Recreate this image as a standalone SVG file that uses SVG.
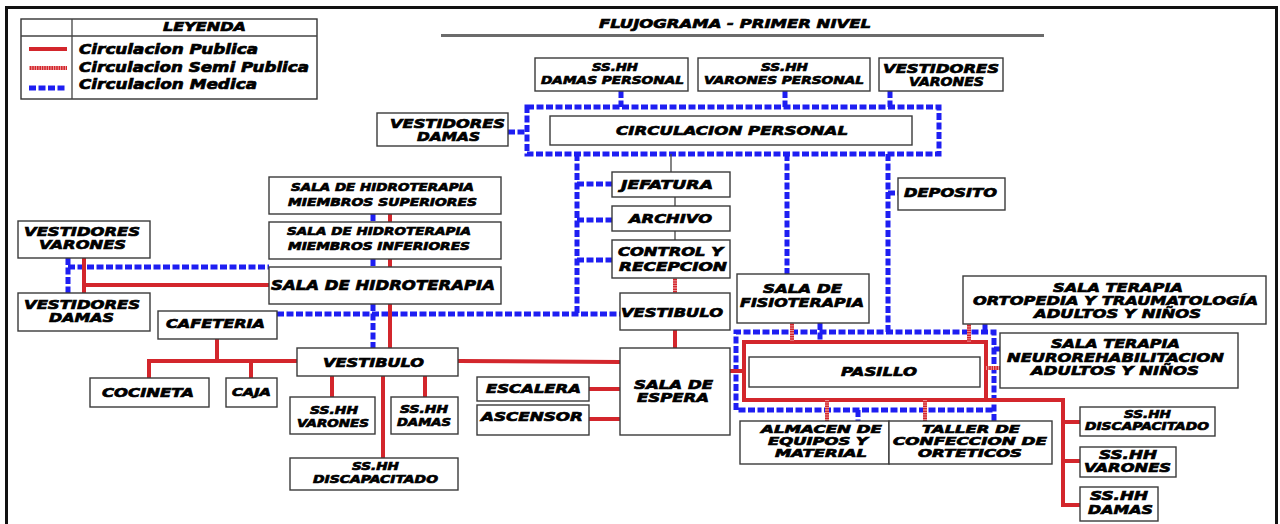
<svg xmlns="http://www.w3.org/2000/svg" width="1280" height="524" viewBox="0 0 1280 524">
  <style>
    .box { fill: #fff; stroke: #3a3a3a; stroke-width: 1.4; }
    .t { font-family: "DejaVu Sans", "Liberation Sans", sans-serif; font-weight: bold; font-style: italic; fill: #000; stroke: #000; stroke-width: 0.7; }
    .f11 { font-size: 11px; }
    .f12 { font-size: 12px; }
    .f13 { font-size: 13px; }
    .f14 { font-size: 14px; }
    .pub { fill: none; stroke: #d3262c; stroke-width: 4; }
    .semi { fill: none; stroke: #d3262c; stroke-width: 4; }
    .semi-tick { fill: none; stroke: #f3b4b4; stroke-width: 4; stroke-dasharray: 0.8 1.6; }
    .med { fill: none; stroke: #1e1ef2; stroke-width: 5; stroke-dasharray: 7 2.5; }
    .thin { fill: none; stroke: #444; stroke-width: 1.3; }
  </style>

  <!-- sheet frame -->
  <path d="M6.5,524 V7.5 H1276.5 V524" fill="none" stroke="#111" stroke-width="3"/>

  <!-- legend -->
  <g id="legend">
    <rect x="21" y="19" width="296" height="80" fill="#fff" stroke="#333" stroke-width="1.4"/>
    <path d="M21,36 H317 M72,19 V99" class="thin"/>
    <text class="t f13" x="163" y="31" textLength="83" lengthAdjust="spacingAndGlyphs">LEYENDA</text>
    <path d="M29,49 H67" class="pub"/>
    <path d="M29,68 H67" class="semi"/>
    <path d="M29,68 H67" class="semi-tick"/>
    <path d="M29,88 H67" class="med" stroke-dasharray="7 3"/>
    <text class="t f14" x="79" y="54" textLength="179" lengthAdjust="spacingAndGlyphs">Circulacion Publica</text>
    <text class="t f14" x="79" y="72" textLength="230" lengthAdjust="spacingAndGlyphs">Circulacion Semi Publica</text>
    <text class="t f14" x="79" y="89" textLength="178" lengthAdjust="spacingAndGlyphs">Circulacion Medica</text>
  </g>

  <!-- title -->
  <g id="title">
    <text class="t f13" x="599" y="28" textLength="272" lengthAdjust="spacingAndGlyphs">FLUJOGRAMA - PRIMER NIVEL</text>
    <path d="M441,35.5 H1044" stroke="#6b6b6b" stroke-width="3"/>
  </g>

  <!-- connectors -->
  <g id="connectors">
    <!-- staff corridor (medical) -->
    <path class="med" d="M527,107 H939 V154 H527 Z"/>
    <path class="med" d="M621,91 V107 M785,91 V107 M890,91 V107 M508,132 H527"/>
    <path class="med" d="M577,154 V314 M277,314 H620 M577,184 H612 M577,220 H612 M577,260 H612"/>
    <path class="med" d="M787,154 V274 M888,154 V332 M888,193 H898"/>
    <path class="med" d="M68,258 V293 M68,267 H269"/>
    <path class="med" d="M373,214 V222 M373,259 V267 M373,304 V348"/>
    <path class="med" d="M994,421 V332 H736 V410 H994"/>
    <path class="med" d="M820,323 V342 M985,324 V332 M994,349 H1000 M858,410 V421"/>

    <!-- office chain -->
    <path class="thin" d="M671,154 V172 M675,197 V206 M675,231 V240"/>

    <!-- public circulation -->
    <path class="pub" d="M84,258 V293 M84,285 H269"/>
    <path class="pub" d="M390,214 V222 M390,259 V267 M390,304 V348"/>
    <path class="pub" d="M217,339 V361 M149,378 V361 H297 M251,361 V378"/>
    <path class="pub" d="M332,376 V397 M383,376 V458 M425,376 V397"/>
    <path class="pub" d="M458,361 L620,362 M589,389 H620 M589,419 H620"/>
    <path class="pub" d="M675,330 V348 M730,371 H744"/>
    <path class="pub" d="M744,342 H986 V400 H744 Z"/>
    <path class="pub" d="M986,400 H1063 V505 H1080 M1063,422 H1080 M1063,461 H1080"/>

    <!-- semi-public circulation -->
    <path class="semi" d="M675,278 V293 M792,323 V342 M969,324 V342 M986,368 H1000 M827,400 V421 M925,400 V421"/>
    <path class="semi-tick" d="M675,278 V293 M792,323 V342 M969,324 V342 M986,368 H1000 M827,400 V421 M925,400 V421"/>
  </g>

  <!-- top row -->
  <g id="sshh-damas-personal">
    <rect class="box" x="535" y="58" width="153" height="33"/>
    <text class="t f11" x="592" y="71" textLength="46" lengthAdjust="spacingAndGlyphs">SS.HH</text>
    <text class="t f11" x="541" y="84" textLength="143" lengthAdjust="spacingAndGlyphs">DAMAS PERSONAL</text>
  </g>
  <g id="sshh-varones-personal">
    <rect class="box" x="698" y="58" width="172" height="33"/>
    <text class="t f11" x="761" y="71" textLength="47" lengthAdjust="spacingAndGlyphs">SS.HH</text>
    <text class="t f11" x="704" y="84" textLength="160" lengthAdjust="spacingAndGlyphs">VARONES PERSONAL</text>
  </g>
  <g id="vestidores-varones-personal">
    <rect class="box" x="879" y="58" width="124" height="33"/>
    <text class="t f13" x="883" y="73" textLength="116" lengthAdjust="spacingAndGlyphs">VESTIDORES</text>
    <text class="t f13" x="909" y="86" textLength="75" lengthAdjust="spacingAndGlyphs">VARONES</text>
  </g>
  <g id="vestidores-damas-personal">
    <rect class="box" x="377" y="113" width="131" height="33"/>
    <text class="t f13" x="390" y="128" textLength="115" lengthAdjust="spacingAndGlyphs">VESTIDORES</text>
    <text class="t f13" x="417" y="141" textLength="63" lengthAdjust="spacingAndGlyphs">DAMAS</text>
  </g>
  <g id="circulacion-personal">
    <rect class="box" x="550" y="116" width="362" height="29"/>
    <text class="t f13" x="616" y="135" textLength="232" lengthAdjust="spacingAndGlyphs">CIRCULACION PERSONAL</text>
  </g>

  <!-- administration column -->
  <g id="jefatura">
    <rect class="box" x="612" y="172" width="118" height="25"/>
    <text class="t f13" x="621" y="189" textLength="92" lengthAdjust="spacingAndGlyphs">JEFATURA</text>
  </g>
  <g id="archivo">
    <rect class="box" x="612" y="206" width="118" height="25"/>
    <text class="t f13" x="629" y="223" textLength="83" lengthAdjust="spacingAndGlyphs">ARCHIVO</text>
  </g>
  <g id="control-recepcion">
    <rect class="box" x="612" y="240" width="118" height="38"/>
    <text class="t f13" x="618" y="256" textLength="105" lengthAdjust="spacingAndGlyphs">CONTROL Y</text>
    <text class="t f13" x="619" y="271" textLength="108" lengthAdjust="spacingAndGlyphs">RECEPCION</text>
  </g>
  <g id="vestibulo-principal">
    <rect class="box" x="620" y="293" width="110" height="37"/>
    <text class="t f13" x="621" y="317" textLength="102" lengthAdjust="spacingAndGlyphs">VESTIBULO</text>
  </g>
  <g id="sala-espera">
    <rect class="box" x="620" y="348" width="110" height="87"/>
    <text class="t f13" x="634" y="389" textLength="79" lengthAdjust="spacingAndGlyphs">SALA DE</text>
    <text class="t f13" x="637" y="402" textLength="72" lengthAdjust="spacingAndGlyphs">ESPERA</text>
  </g>
  <g id="escalera">
    <rect class="box" x="477" y="377" width="112" height="24"/>
    <text class="t f13" x="486" y="393" textLength="95" lengthAdjust="spacingAndGlyphs">ESCALERA</text>
  </g>
  <g id="ascensor">
    <rect class="box" x="477" y="405" width="112" height="30"/>
    <text class="t f13" x="481" y="421" textLength="102" lengthAdjust="spacingAndGlyphs">ASCENSOR</text>
  </g>

  <!-- therapy wing -->
  <g id="deposito">
    <rect class="box" x="898" y="178" width="107" height="32"/>
    <text class="t f13" x="904" y="197" textLength="93" lengthAdjust="spacingAndGlyphs">DEPOSITO</text>
  </g>
  <g id="sala-fisioterapia">
    <rect class="box" x="737" y="274" width="132" height="49"/>
    <text class="t f13" x="763" y="293" textLength="79" lengthAdjust="spacingAndGlyphs">SALA DE</text>
    <text class="t f13" x="740" y="307" textLength="124" lengthAdjust="spacingAndGlyphs">FISIOTERAPIA</text>
  </g>
  <g id="sala-ortopedia">
    <rect class="box" x="963" y="276" width="303" height="48"/>
    <text class="t f13" x="1053" y="292" textLength="130" lengthAdjust="spacingAndGlyphs">SALA TERAPIA</text>
    <text class="t f13" x="973" y="305" textLength="285" lengthAdjust="spacingAndGlyphs">ORTOPEDIA Y TRAUMATOLOGÍA</text>
    <text class="t f13" x="1034" y="318" textLength="167" lengthAdjust="spacingAndGlyphs">ADULTOS Y NIÑOS</text>
  </g>
  <g id="sala-neurorehabilitacion">
    <rect class="box" x="1000" y="333" width="238" height="55"/>
    <text class="t f13" x="1051" y="348" textLength="129" lengthAdjust="spacingAndGlyphs">SALA TERAPIA</text>
    <text class="t f13" x="1007" y="362" textLength="217" lengthAdjust="spacingAndGlyphs">NEUROREHABILITACION</text>
    <text class="t f13" x="1031" y="375" textLength="168" lengthAdjust="spacingAndGlyphs">ADULTOS Y NIÑOS</text>
  </g>
  <g id="pasillo">
    <rect class="box" x="749" y="357" width="231" height="30"/>
    <text class="t f13" x="841" y="376" textLength="76" lengthAdjust="spacingAndGlyphs">PASILLO</text>
  </g>
  <g id="almacen">
    <rect class="box" x="740" y="421" width="149" height="43"/>
    <text class="t f11" x="761" y="433" textLength="121" lengthAdjust="spacingAndGlyphs">ALMACEN DE</text>
    <text class="t f11" x="768" y="445" textLength="100" lengthAdjust="spacingAndGlyphs">EQUIPOS Y</text>
    <text class="t f11" x="775" y="457" textLength="92" lengthAdjust="spacingAndGlyphs">MATERIAL</text>
  </g>
  <g id="taller-orteticos">
    <rect class="box" x="889" y="421" width="163" height="43"/>
    <text class="t f11" x="922" y="433" textLength="98" lengthAdjust="spacingAndGlyphs">TALLER DE</text>
    <text class="t f11" x="893" y="445" textLength="154" lengthAdjust="spacingAndGlyphs">CONFECCION DE</text>
    <text class="t f11" x="918" y="457" textLength="104" lengthAdjust="spacingAndGlyphs">ORTETICOS</text>
  </g>
  <g id="sshh-discapacitado-terapia">
    <rect class="box" x="1080" y="407" width="135" height="29"/>
    <text class="t f11" x="1124" y="418" textLength="47" lengthAdjust="spacingAndGlyphs">SS.HH</text>
    <text class="t f11" x="1085" y="430" textLength="124" lengthAdjust="spacingAndGlyphs">DISCAPACITADO</text>
  </g>
  <g id="sshh-varones-terapia">
    <rect class="box" x="1080" y="447" width="96" height="30"/>
    <text class="t f13" x="1099" y="459" textLength="58" lengthAdjust="spacingAndGlyphs">SS.HH</text>
    <text class="t f13" x="1084" y="472" textLength="87" lengthAdjust="spacingAndGlyphs">VARONES</text>
  </g>
  <g id="sshh-damas-terapia">
    <rect class="box" x="1080" y="487" width="78" height="34"/>
    <text class="t f13" x="1090" y="500" textLength="58" lengthAdjust="spacingAndGlyphs">SS.HH</text>
    <text class="t f13" x="1088" y="514" textLength="65" lengthAdjust="spacingAndGlyphs">DAMAS</text>
  </g>

  <!-- hydrotherapy wing -->
  <g id="hidroterapia-superiores">
    <rect class="box" x="269" y="177" width="232" height="37"/>
    <text class="t f11" x="291" y="191" textLength="183" lengthAdjust="spacingAndGlyphs">SALA DE HIDROTERAPIA</text>
    <text class="t f11" x="288" y="206" textLength="189" lengthAdjust="spacingAndGlyphs">MIEMBROS SUPERIORES</text>
  </g>
  <g id="hidroterapia-inferiores">
    <rect class="box" x="269" y="222" width="232" height="37"/>
    <text class="t f11" x="287" y="235" textLength="184" lengthAdjust="spacingAndGlyphs">SALA DE HIDROTERAPIA</text>
    <text class="t f11" x="288" y="250" textLength="182" lengthAdjust="spacingAndGlyphs">MIEMBROS INFERIORES</text>
  </g>
  <g id="sala-hidroterapia">
    <rect class="box" x="269" y="267" width="232" height="37"/>
    <text class="t f14" x="271" y="290" textLength="224" lengthAdjust="spacingAndGlyphs">SALA DE HIDROTERAPIA</text>
  </g>
  <g id="vestidores-varones">
    <rect class="box" x="18" y="221" width="132" height="37"/>
    <text class="t f13" x="24" y="236" textLength="116" lengthAdjust="spacingAndGlyphs">VESTIDORES</text>
    <text class="t f13" x="39" y="249" textLength="87" lengthAdjust="spacingAndGlyphs">VARONES</text>
  </g>
  <g id="vestidores-damas">
    <rect class="box" x="18" y="293" width="132" height="38"/>
    <text class="t f13" x="24" y="309" textLength="116" lengthAdjust="spacingAndGlyphs">VESTIDORES</text>
    <text class="t f13" x="49" y="322" textLength="65" lengthAdjust="spacingAndGlyphs">DAMAS</text>
  </g>

  <!-- public services -->
  <g id="cafeteria">
    <rect class="box" x="158" y="311" width="119" height="28"/>
    <text class="t f13" x="166" y="328" textLength="99" lengthAdjust="spacingAndGlyphs">CAFETERIA</text>
  </g>
  <g id="cocineta">
    <rect class="box" x="90" y="378" width="119" height="29"/>
    <text class="t f13" x="102" y="397" textLength="92" lengthAdjust="spacingAndGlyphs">COCINETA</text>
  </g>
  <g id="caja">
    <rect class="box" x="226" y="378" width="51" height="29"/>
    <text class="t f11" x="232" y="396" textLength="39" lengthAdjust="spacingAndGlyphs">CAJA</text>
  </g>
  <g id="vestibulo-publico">
    <rect class="box" x="297" y="348" width="161" height="28"/>
    <text class="t f13" x="323" y="367" textLength="101" lengthAdjust="spacingAndGlyphs">VESTIBULO</text>
  </g>
  <g id="sshh-varones-publico">
    <rect class="box" x="290" y="397" width="85" height="37"/>
    <text class="t f11" x="310" y="414" textLength="48" lengthAdjust="spacingAndGlyphs">SS.HH</text>
    <text class="t f11" x="297" y="427" textLength="72" lengthAdjust="spacingAndGlyphs">VARONES</text>
  </g>
  <g id="sshh-damas-publico">
    <rect class="box" x="391" y="397" width="67" height="37"/>
    <text class="t f11" x="400" y="413" textLength="48" lengthAdjust="spacingAndGlyphs">SS.HH</text>
    <text class="t f11" x="397" y="426" textLength="54" lengthAdjust="spacingAndGlyphs">DAMAS</text>
  </g>
  <g id="sshh-discapacitado-publico">
    <rect class="box" x="290" y="458" width="168" height="32"/>
    <text class="t f11" x="352" y="470" textLength="47" lengthAdjust="spacingAndGlyphs">SS.HH</text>
    <text class="t f11" x="313" y="483" textLength="125" lengthAdjust="spacingAndGlyphs">DISCAPACITADO</text>
  </g>
</svg>
